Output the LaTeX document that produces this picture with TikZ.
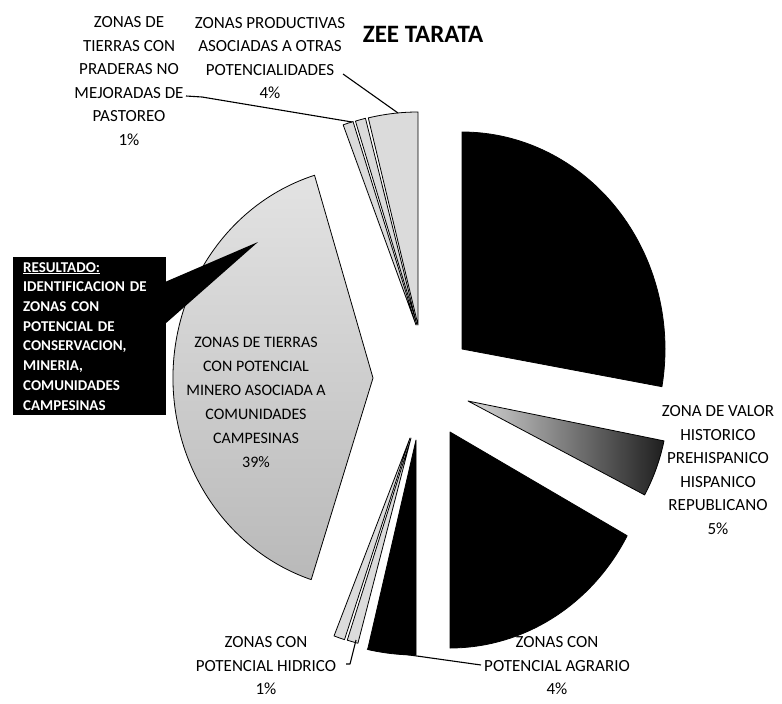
\documentclass[tikz,border=0pt]{standalone}
\usepackage{fontspec}
\setmainfont{Carlito}
\begin{document}
\begin{tikzpicture}[x=1pt,y=-1pt,
  slice/.style={draw=black, line width=0.8pt, line join=round},
  lightslice/.style={slice, fill=gray!28},
  darkslice/.style={slice, fill=black},
  lbl/.style={font=\fontsize{17}{23.5}\selectfont, align=center, inner sep=0pt},
  leader/.style={draw=black, line width=1.1pt, line join=round}]
\useasboundingbox (0,0) rectangle (782,704);

% ---- pie slices (angles are TikZ angles in the flipped pixel frame) ----
% large slice, 39%
\path[slice, top color=gray!22, middle color=gray!30, bottom color=gray!55]
  (373,378) -- ++(-107:200 and 212)
  arc[start angle=-107, end angle=-252, x radius=200, y radius=212] -- cycle;
% upper thin slices
\path[lightslice] (418,325) -- ++(-90:213)
  arc[start angle=-90, end angle=-103.5, radius=213] -- cycle;
\path[lightslice] (417,325) -- ++(-104:213)
  arc[start angle=-104, end angle=-106.8, radius=213] -- cycle;
\path[lightslice] (416,325) -- ++(-107.2:213)
  arc[start angle=-107.2, end angle=-110, radius=213] -- cycle;
% upper right dark slice
\path[darkslice] (462,349) -- ++(-90:203 and 217)
  arc[start angle=-90, end angle=10, x radius=203, y radius=217] -- cycle;
% historic value slice, 5%
\path[slice, left color=gray!30, right color=black!88]
  (468,401) -- ++(11.5:200)
  arc[start angle=11.5, end angle=28, radius=200] -- cycle;
% lower right dark slice
\path[darkslice] (450,432) -- ++(28.7:202 and 216)
  arc[start angle=28.7, end angle=90, x radius=202, y radius=216] -- cycle;
% agricultural potential slice, 4%
\path[darkslice] (416,440) -- ++(90:215)
  arc[start angle=90, end angle=103, radius=215] -- cycle;
% lower thin slices
\path[lightslice] (411,438) -- ++(104.5:212)
  arc[start angle=104.5, end angle=107.5, radius=212] -- cycle;
\path[lightslice] (410,438) -- ++(108:212)
  arc[start angle=108, end angle=111, radius=212] -- cycle;

% ---- title ----
\node (title) [font=\fontsize{25}{30}\selectfont\bfseries, inner sep=0pt] at (423,34) {ZEE TARATA};

% ---- labels ----
\node (prad) [lbl] at (129,81) {ZONAS DE\\TIERRAS CON\\PRADERAS NO\\MEJORADAS DE\\PASTOREO\\1\%};
\node (prod) [lbl] at (270,58) {ZONAS PRODUCTIVAS\\ASOCIADAS A OTRAS\\POTENCIALIDADES\\4\%};
\node (valor) [lbl] at (718,470) {ZONA DE VALOR\\HISTORICO\\PREHISPANICO\\HISPANICO\\REPUBLICANO\\5\%};
\node (hidr) [lbl] at (266,666) {ZONAS CON\\POTENCIAL HIDRICO\\1\%};
\node (agra) [lbl] at (557,666) {ZONAS CON\\POTENCIAL AGRARIO\\4\%};
\node (mine) [font=\fontsize{16}{24}\selectfont, align=center, inner sep=0pt] at (256,402)
  {ZONAS DE TIERRAS\\CON POTENCIAL\\MINERO ASOCIADA A\\COMUNIDADES\\CAMPESINAS\\39\%};

% ---- leader lines ----
\coordinate (pradA) at (186,96);
\coordinate (pradB) at (202,97);
\coordinate (pradC) at (352,122);
\coordinate (prodA) at (343,74);
\coordinate (prodB) at (398,113);
\coordinate (hidrA) at (346,664);
\coordinate (hidrB) at (350,664);
\coordinate (hidrC) at (356,640);
\coordinate (agraA) at (481,665);
\coordinate (agraB) at (367,649);
\path[leader] (pradA) -- (pradB) -- (pradC);
\path[leader] (prodA) -- (prodB);
\path[leader] (hidrA) -- (hidrB) -- (hidrC);
\path[leader] (agraA) -- (agraB);

% ---- callout box ----
\node (callout) [fill=black, text=white, anchor=north west, align=left,
  text width=133pt, inner xsep=10pt, inner ysep=0pt, minimum height=158pt,
  font=\fontsize{15}{19.7}\selectfont\bfseries] at (13,257)
  {\underline{RESULTADO:}\\IDENTIFICACION DE\\ZONAS CON\\POTENCIAL DE\\CONSERVACION,\\MINERIA,\\COMUNIDADES\\CAMPESINAS};
\coordinate (ptrA) at (165,282);
\coordinate (ptrB) at (165,324);
\coordinate (ptrTip) at (258,242);
\fill[black] (ptrA) -- (ptrTip) -- (ptrB) -- cycle;
\end{tikzpicture}
\end{document}
